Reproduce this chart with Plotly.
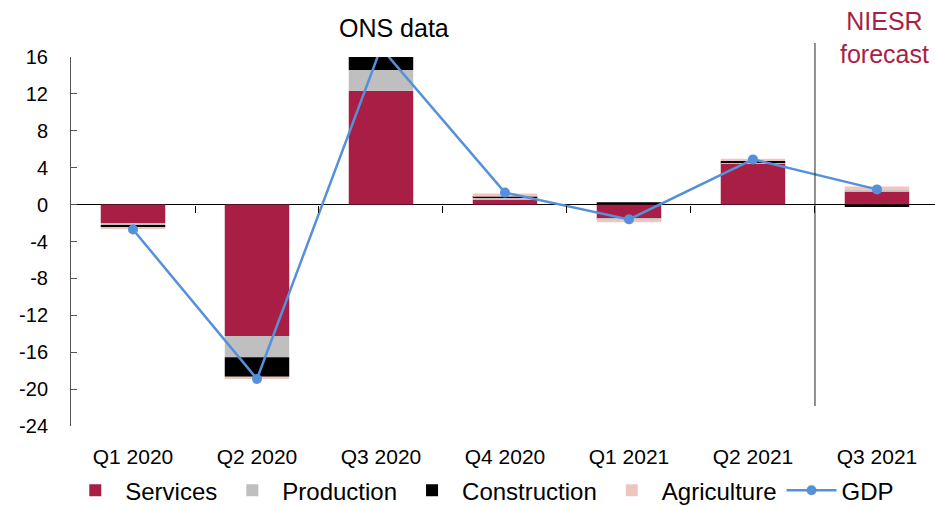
import plotly.graph_objects as go

quarters = ["Q1 2020", "Q2 2020", "Q3 2020", "Q4 2020", "Q1 2021", "Q2 2021", "Q3 2021"]
services = [-2.0, -14.25, 12.35, 0.55, -1.55, 4.5, 1.4]
production = [-0.3, -2.3, 2.25, 0.2, -0.05, 0.02, 0.15]
construction = [-0.15, -2.1, 1.5, 0.1, 0.25, 0.2, -0.25]
agriculture = [-0.2, -0.25, 0.05, 0.35, -0.3, 0.25, 0.4]
gdp = [-2.7, -18.9, 17.0, 1.3, -1.6, 4.9, 1.65]
y_ticks = [-24, -20, -16, -12, -8, -4, 0, 4, 8, 12, 16]

FONT = "Liberation Sans, Arial, sans-serif"
CRIMSON = "#A91E45"

fig = go.Figure()
for name, vals, col in [("Services", services, CRIMSON),
                        ("Production", production, "#BFBFBF"),
                        ("Construction", construction, "#000000"),
                        ("Agriculture", agriculture, "#EFC6BF")]:
    fig.add_trace(go.Bar(x=quarters, y=vals, name=name, marker=dict(color=col, line=dict(width=0))))

fig.add_trace(go.Scatter(x=quarters, y=gdp, name="GDP", mode="lines+markers",
                         line=dict(color="#5591DA", width=2.5),
                         marker=dict(color="#5591DA", size=10)))

# invisible helper trace to carry the tick axis at zero
fig.add_trace(go.Scatter(x=list(range(len(quarters))), y=gdp, xaxis="x2", mode="markers",
                         marker=dict(opacity=0), showlegend=False, hoverinfo="skip"))

xr = [-0.5, 6.468]
fig.update_layout(
    width=935, height=507,
    margin=dict(l=71, r=0, t=57, b=81, autoexpand=False),
    paper_bgcolor="white", plot_bgcolor="white",
    barmode="relative", bargap=0.48,
    font=dict(family=FONT, size=20, color="#000000"),
    showlegend=True,
    legend=dict(orientation="h", x=0.476, xanchor="center", y=-0.175, yanchor="middle",
                font=dict(size=24), itemwidth=50, traceorder="normal",
                bgcolor="rgba(0,0,0,0)"),
    xaxis=dict(type="category", range=xr, showgrid=False, zeroline=False, showline=False,
               ticks="outside", ticklen=12, tickcolor="rgba(0,0,0,0)",
               tickfont=dict(size=21), automargin=False),
    xaxis2=dict(overlaying="x", anchor="free", position=0.6, range=xr, side="bottom",
                tickmode="array", tickvals=[0.5, 1.5, 2.5, 3.5, 4.5, 5.5],
                ticks="outside", ticklen=7, tickcolor="#000000", tickwidth=1,
                showticklabels=False, showgrid=False, zeroline=False, showline=False,
                automargin=False),
    yaxis=dict(range=[-24, 16], tickmode="array", tickvals=y_ticks,
               ticktext=[str(v) for v in y_ticks],
               showgrid=False, zeroline=True, zerolinecolor="#000000", zerolinewidth=1,
               showline=True, linecolor="#555555", linewidth=1,
               ticks="inside", ticklen=6, tickcolor="#555555",
               ticklabelstandoff=18, tickfont=dict(size=20), automargin=False),
    shapes=[dict(type="line", xref="x", yref="paper", x0=5.5, x1=5.5, y0=0.054, y1=1.038,
                 line=dict(color="#222222", width=1))],
    annotations=[
        dict(text="ONS data", xref="paper", yref="paper", x=0.374, y=1.079,
             xanchor="center", yanchor="middle", showarrow=False,
             font=dict(size=25, color="#000000")),
        dict(text="NIESR<br>forecast", xref="paper", yref="paper", x=0.941, y=1.053,
             xanchor="center", yanchor="middle", showarrow=False,
             font=dict(size=25, color=CRIMSON)),
    ],
)

fig.write_html("out.html", config={"displayModeBar": False},
               post_script="document.body.style.margin='0';")
